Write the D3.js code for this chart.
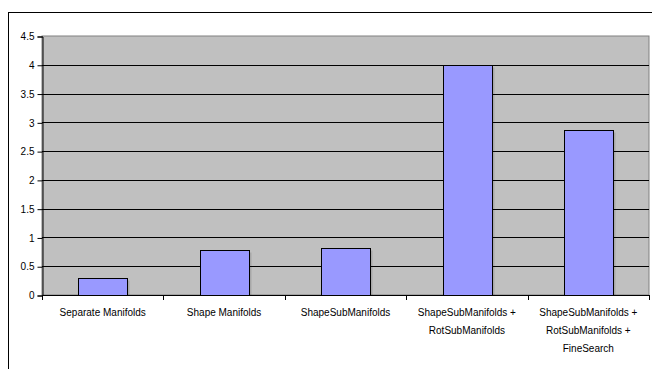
<!DOCTYPE html>
<html>
<head>
<meta charset="utf-8">
<script src="https://cdn.jsdelivr.net/npm/d3@7"></script>
<style>
  html, body { margin: 0; padding: 0; background: #fff; }
  svg { display: block; }
  text { font-family: "Liberation Sans", Arial, sans-serif; fill: #000; }
</style>
</head>
<body>
<svg id="chart" width="652" height="369"></svg>
<script>
// Run times of the different search strategies
const categories = [
  ["Separate Manifolds"],
  ["Shape Manifolds"],
  ["ShapeSubManifolds"],
  ["ShapeSubManifolds +", "RotSubManifolds"],
  ["ShapeSubManifolds +", "RotSubManifolds +", "FineSearch"]
];
const values = [0.3, 0.78, 0.82, 4.0, 2.87];
const yTicks = [0, 0.5, 1, 1.5, 2, 2.5, 3, 3.5, 4, 4.5];

const svg = d3.select("#chart");
const W = 652, H = 369;
const plot = { left: 42, top: 36, right: 649, bottom: 295 };

// Chart area frame
svg.append("rect")
  .attr("x", 8.5).attr("y", 12.5)
  .attr("width", W + 10).attr("height", H + 10)
  .attr("fill", "#fff").attr("stroke", "#000").attr("stroke-width", 1);

const keys = categories.map((d, i) => i);
const x = d3.scaleBand().domain(keys).range([plot.left, plot.right]).paddingInner(0).paddingOuter(0);
const y = d3.scaleLinear().domain([0, 4.5]).range([plot.bottom, plot.top]);

// Plot background
svg.append("rect")
  .attr("x", plot.left).attr("y", plot.top)
  .attr("width", plot.right - plot.left).attr("height", plot.bottom - plot.top)
  .attr("fill", "#c0c0c0").attr("stroke", "#808080").attr("stroke-width", 1);

// Gridlines
svg.append("g")
  .selectAll("line")
  .data(yTicks.filter(t => t > 0 && t < 4.5))
  .join("line")
  .attr("x1", plot.left).attr("x2", plot.right)
  .attr("y1", d => Math.round(y(d)) + 0.5).attr("y2", d => Math.round(y(d)) + 0.5)
  .attr("stroke", "#000").attr("stroke-width", 1);

// Bars (gap width 150%)
const bw = x.bandwidth() * 0.4;
const barG = svg.append("g");
barG.selectAll("rect.shadow")
  .data(values)
  .join("rect")
  .attr("class", "shadow")
  .attr("x", (d, i) => Math.round(x(i) + (x.bandwidth() - bw) / 2) + 2.5)
  .attr("y", d => Math.round(y(d)) + 2.5)
  .attr("width", Math.round(bw))
  .attr("height", d => plot.bottom - Math.round(y(d)) - 2)
  .attr("fill", "#000").attr("opacity", 0.12);
barG.selectAll("rect.bar")
  .data(values)
  .join("rect")
  .attr("class", "bar")
  .attr("x", (d, i) => Math.round(x(i) + (x.bandwidth() - bw) / 2) + 0.5)
  .attr("y", d => Math.round(y(d)) + 0.5)
  .attr("width", Math.round(bw))
  .attr("height", d => plot.bottom - Math.round(y(d)))
  .attr("fill", "#9999ff").attr("stroke", "#000").attr("stroke-width", 1);

// Y axis
const yAxis = d3.axisLeft(y).tickValues(yTicks).tickSize(5).tickPadding(3)
  .tickFormat(d => String(d));
const yg = svg.append("g").attr("transform", `translate(${plot.left + 0.5},0.5)`).call(yAxis);
yg.select(".domain").attr("stroke", "#000");
yg.selectAll(".tick line").attr("stroke", "#000");
yg.selectAll(".tick text").attr("font-size", 10).attr("fill", "#000")
  .attr("font-family", "Liberation Sans, Arial, sans-serif");

// X axis line and ticks at category boundaries
const xg = svg.append("g");
xg.append("line")
  .attr("x1", plot.left).attr("x2", plot.right)
  .attr("y1", plot.bottom + 0.5).attr("y2", plot.bottom + 0.5)
  .attr("stroke", "#000");
xg.selectAll("line.tick")
  .data(keys.concat([keys.length]))
  .join("line")
  .attr("class", "tick")
  .attr("x1", d => Math.round(d < keys.length ? x(d) : plot.right) + 0.5)
  .attr("x2", d => Math.round(d < keys.length ? x(d) : plot.right) + 0.5)
  .attr("y1", plot.bottom).attr("y2", plot.bottom + 5)
  .attr("stroke", "#000");

// Category labels
const lab = svg.append("g").selectAll("text")
  .data(categories)
  .join("text")
  .attr("text-anchor", "middle")
  .attr("font-size", 10)
  .attr("transform", (d, i) => `translate(${x(i) + x.bandwidth() / 2},${316})`);
lab.selectAll("tspan")
  .data(d => d)
  .join("tspan")
  .attr("x", 0)
  .attr("y", (d, j) => j * 17.8)
  .text(d => d);
</script>
</body>
</html>
